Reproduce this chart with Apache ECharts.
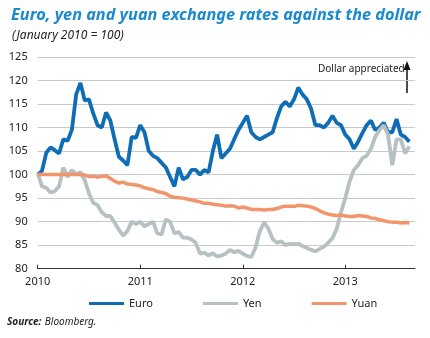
<!DOCTYPE html>
<html>
<head>
<meta charset="utf-8">
<script src="https://cdn.jsdelivr.net/npm/echarts@6/dist/echarts.min.js"></script>
<style>
html,body{margin:0;padding:0;background:#fff;}
#c{width:430px;height:338px;}
</style>
</head>
<body>
<div id="c"></div>
<script>
// Semi-monthly sample dates (1st and 16th of each month), Jan 2010 - Aug 2013
const dates = [];
for (let y = 2010; y <= 2013; y++) {
  for (let m = 1; m <= 12; m++) {
    for (const d of [1, 16]) {
      if (y === 2013 && (m > 8 || (m === 8 && d === 16))) continue;
      dates.push(y + '-' + String(m).padStart(2, '0') + '-' + String(d).padStart(2, '0'));
    }
  }
}
dates.push('2013-08-16');

const yearTicks = [2010, 2011, 2012, 2013];

const euro = [100,100.8,104.6,105.8,105.2,104.5,107.5,107.2,109.5,117,119.5,115.8,116,113,110.5,110,113.2,111.5,107.5,103.8,
  103,102,108,107.8,110.5,109,105,104,103.5,102.5,101.5,99.5,97.5,101.5,99,99.5,101,101,100,101,
  100.5,105,108.5,103.5,104.5,105.5,107.5,109.5,111,112.5,109,108,107.5,108,108.5,109,112,114.5,115.5,114.5,
  116,118.5,117,116,114,110.5,110.5,110,111,112.5,111,110.5,108.5,107.5,105.5,107,108.8,110.5,111.5,109.5,
  110,111,109,109,111.8,108.5,108,107,108.5];
const yen = [100.3,97.5,97.2,96.2,96.5,97.5,101.5,99.5,101,100,100.5,98.8,96,94,93.5,92,91.2,91.2,89.8,88.3,
  87,88,90,89.5,90,89,89.5,90,87.5,87.3,90.5,90,87.5,87.8,86.6,86.6,86.2,85.5,83.2,83.4,
  82.8,83.3,82.6,82.8,83.2,84,83.5,83.8,83.2,82.7,82.5,84.5,88,89.8,88.5,86.3,85.5,85.8,85,85.3,
  85.2,85.3,84.8,84.4,84,83.7,84.2,84.7,85.5,86.5,88.5,92,95,98.5,101,102,103.5,104,105.5,108,
  109.5,110.5,108.5,102,107.5,107.5,104.5,106,106.5];
const yuan = [100,100,100,100,100,100,100,100,100,100,100,99.9,99.6,99.6,99.5,99.6,99.7,99.2,98.6,98.2,
  98.4,98,97.9,97.8,97.6,97.2,97,96.8,96.4,96.2,96,95.4,95.2,95.1,95,94.8,94.6,94.4,94.2,93.9,
  93.9,93.7,93.6,93.5,93.3,93.4,93.3,92.9,93.1,92.9,92.6,92.6,92.6,92.5,92.6,92.6,92.8,93.1,93.3,93.3,
  93.2,93.5,93.4,93.3,93.1,92.8,92.3,91.9,91.6,91.4,91.3,91.4,91.2,91.1,91.1,91.3,91.2,91.1,90.8,90.7,
  90.4,90.2,90,89.9,89.9,89.7,89.8,89.7,89.6];

function toYear(s) {
  const [y, m, d] = s.split('-').map(Number);
  return y + (m - 1) / 12 + (d - 1) / 30 / 12;
}
const xs = dates.map(toYear);
const pair = arr => arr.map((v, i) => [xs[i], v]);

const FONT = '"Noto Sans", "Open Sans", sans-serif';
const chart = echarts.init(document.getElementById('c'), null, {renderer: 'canvas'});
chart.setOption({
  animation: false,
  backgroundColor: '#fff',
  textStyle: {fontFamily: FONT},
  title: [
    {text: 'Euro, yen and yuan exchange rates against the dollar', left: 6, top: 2,
     textStyle: {fontFamily: FONT, fontSize: 16.3, fontWeight: 'bold', fontStyle: 'italic', color: '#1a8ad0'}},
    {text: '(January 2010 = 100)', left: 7, top: 25,
     textStyle: {fontFamily: FONT, fontSize: 12, fontWeight: 'normal', fontStyle: 'italic', color: '#222'}}
  ],
  grid: {left: 37.7, right: 15, top: 57, bottom: 69.3, containLabel: false},
  xAxis: {
    type: 'value', min: 2010, max: 2013.68,
    axisLine: {show: true, lineStyle: {color: '#333', width: 1}},
    axisTick: {show: true, inside: true, length: 4, customValues: yearTicks, lineStyle: {color: '#333'}},
    axisLabel: {customValues: yearTicks, formatter: v => String(v), color: '#222', fontSize: 11, margin: 8, fontFamily: FONT},
    splitLine: {show: false}
  },
  yAxis: {
    type: 'value', min: 80, max: 125, interval: 5,
    axisLine: {show: false}, axisTick: {show: false},
    axisLabel: {color: '#222', fontSize: 11, margin: 10, fontFamily: FONT},
    splitLine: {show: true, lineStyle: {color: '#c9c9c9', width: 1}}
  },
  legend: {
    left: 84, top: 293, itemWidth: 35, itemHeight: 3, itemGap: 50, icon: 'rect',
    textStyle: {fontFamily: FONT, fontSize: 11, color: '#222'},
    data: ['Euro', 'Yen', 'Yuan']
  },
  series: [
    {name: 'Euro', type: 'line', data: pair(euro), showSymbol: false, lineStyle: {width: 3.8, color: '#0f6db5'}, itemStyle: {color: '#0f6db5'}},
    {name: 'Yen', type: 'line', data: pair(yen), showSymbol: false, lineStyle: {width: 3.8, color: '#b7c0c3'}, itemStyle: {color: '#b7c0c3'}},
    {name: 'Yuan', type: 'line', data: pair(yuan), showSymbol: false, lineStyle: {width: 3.5, color: '#f2956a'}, itemStyle: {color: '#f2956a'}}
  ],
  graphic: [
    {type: 'text', left: 318, top: 64, style: {text: 'Dollar appreciated', fontFamily: FONT, fontSize: 10, fill: '#222'}},
    {type: 'line', shape: {x1: 407, y1: 93, x2: 407, y2: 68}, style: {stroke: '#111', lineWidth: 1.5}},
    {type: 'polygon', shape: {points: [[403.5, 70], [410.5, 70], [407, 61]]}, style: {fill: '#111'}},
    {type: 'text', left: 7, top: 316, style: {
      rich: {b: {fontFamily: FONT, fontSize: 10, fontWeight: 'bold', fontStyle: 'italic', fill: '#222'},
             n: {fontFamily: FONT, fontSize: 10, fontStyle: 'italic', fill: '#222'}},
      text: '{b|Source:} {n|Bloomberg.}'}}
  ]
});
</script>
</body>
</html>
